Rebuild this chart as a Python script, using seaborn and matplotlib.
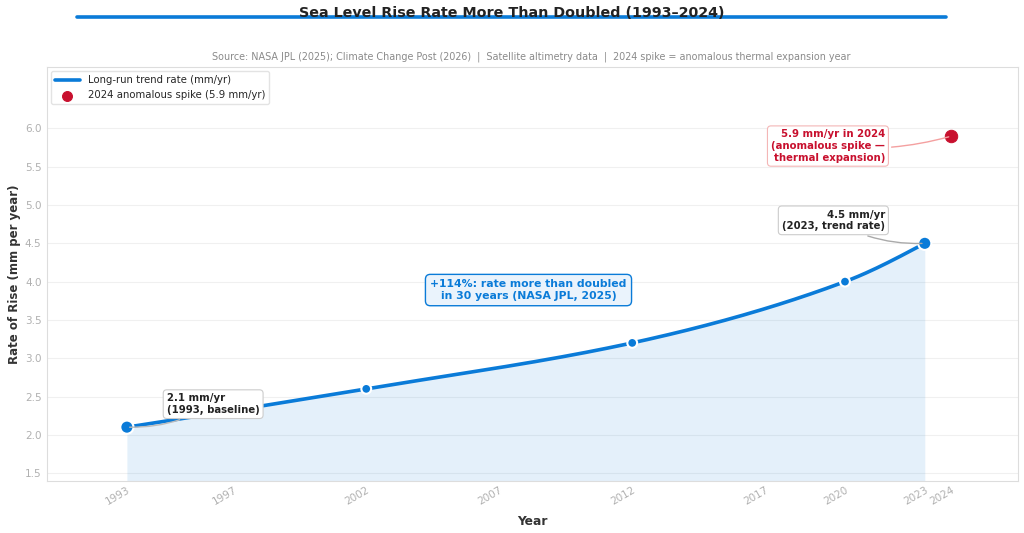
import numpy as np
import pandas as pd
import matplotlib
matplotlib.use('Agg')
import matplotlib.pyplot as plt
from matplotlib.lines import Line2D
import seaborn as sns

# data
years = [1993, 2002, 2012, 2020, 2023]
rates = [2.1, 2.6, 3.2, 4.0, 4.5]
spike_year = [2024]
spike_rate = [5.9]
tick_years = [1993, 1997, 2002, 2007, 2012, 2017, 2020, 2023, 2024]

blue = '#0a7bd8'
red = '#c8102e'

sns.set_theme(style='whitegrid')
plt.rcParams['font.family'] = ['DejaVu Sans']

df = pd.DataFrame({'year': years, 'rate': rates})


# smooth rendering of the trend line (monotone cubic through the read points)
def pchip(x, y, xs):
    x = np.asarray(x, float)
    y = np.asarray(y, float)
    h = np.diff(x)
    d = np.diff(y) / h
    m = np.zeros_like(y)
    for i in range(1, len(x) - 1):
        if d[i - 1] * d[i] > 0:
            w1 = 2 * h[i] + h[i - 1]
            w2 = h[i] + 2 * h[i - 1]
            m[i] = (w1 + w2) / (w1 / d[i - 1] + w2 / d[i])
    m[0] = ((2 * h[0] + h[1]) * d[0] - h[0] * d[1]) / (h[0] + h[1])
    m[-1] = ((2 * h[-1] + h[-2]) * d[-1] - h[-1] * d[-2]) / (h[-1] + h[-2])
    out = np.empty_like(xs)
    for j, xv in enumerate(xs):
        i = min(max(np.searchsorted(x, xv) - 1, 0), len(x) - 2)
        t = (xv - x[i]) / h[i]
        h00 = 2 * t**3 - 3 * t**2 + 1
        h10 = t**3 - 2 * t**2 + t
        h01 = -2 * t**3 + 3 * t**2
        h11 = t**3 - t**2
        out[j] = h00 * y[i] + h10 * h[i] * m[i] + h01 * y[i + 1] + h11 * h[i] * m[i + 1]
    return out


xs = np.linspace(years[0], years[-1], 300)
ys = pchip(years, rates, xs)
smooth = pd.DataFrame({'year': xs, 'rate': ys})

fig = plt.figure(figsize=(10.24, 5.33), dpi=100)
ax = fig.add_axes([0.046, 0.098, 0.948, 0.776])

ylo, yhi = 1.4, 6.8
ax.fill_between(xs, ylo, ys, color=blue, alpha=0.11, lw=0, zorder=1)
sns.lineplot(data=smooth, x='year', y='rate', ax=ax, color=blue, lw=2.6,
             label='Long-run trend rate (mm/yr)', zorder=3)
sizes = [90 if y in (1993, 2023) else 50 for y in years]
ax.scatter(years, rates, s=sizes, color=blue, edgecolor='white', linewidth=1.5, zorder=4)
sns.scatterplot(x=spike_year, y=spike_rate, ax=ax, s=80, color=red, edgecolor=red,
                label='2024 anomalous spike (5.9 mm/yr)', zorder=5)

ax.set_xlim(1990.0, 2026.5)
ax.set_ylim(ylo, yhi)
ax.set_xticks(tick_years)
ax.set_xticklabels([str(t) for t in tick_years], rotation=30, ha='right',
                   rotation_mode='anchor', color='#b0b0b0', fontsize=7.5)
ax.set_yticks(np.arange(1.5, 6.01, 0.5))
ax.set_yticklabels([f'{v:.1f}' for v in np.arange(1.5, 6.01, 0.5)], color='#b0b0b0', fontsize=7.5)
ax.tick_params(axis='x', length=0, pad=3)
ax.tick_params(axis='y', length=0, pad=4)
ax.grid(axis='x', visible=False)
ax.grid(axis='y', color='#f0f0f0', lw=0.8)
for s in ax.spines.values():
    s.set_color('#dddddd')
    s.set_linewidth(0.8)

ax.set_xlabel('Year', fontsize=8.8, fontweight='bold', color='#333333', labelpad=6)
ax.set_ylabel('Rate of Rise (mm per year)', fontsize=8.5, fontweight='bold', color='#333333', labelpad=3)

ax.legend(loc='upper left', fontsize=7.3, frameon=True, facecolor='white',
          edgecolor='#dddddd', borderaxespad=0.4, handlelength=2.4, markerscale=0.8)

# annotations
ax.annotate('2.1 mm/yr\n(1993, baseline)', xy=(1993, 2.1), xytext=(1994.5, 2.4),
            ha='left', va='center', fontsize=7.3, fontweight='bold', color='#222222',
            bbox=dict(boxstyle='round,pad=0.35', fc='white', ec='#cccccc', lw=0.8),
            arrowprops=dict(arrowstyle='-', color='#bbbbbb', lw=1,
                            connectionstyle='arc3,rad=-0.15'), zorder=6)
ax.annotate('4.5 mm/yr\n(2023, trend rate)', xy=(2023, 4.5), xytext=(2021.5, 4.8),
            ha='right', va='center', fontsize=7.3, fontweight='bold', color='#222222',
            bbox=dict(boxstyle='round,pad=0.35', fc='white', ec='#cccccc', lw=0.8),
            arrowprops=dict(arrowstyle='-', color='#aaaaaa', lw=1,
                            connectionstyle='arc3,rad=0.15'), zorder=6)
ax.annotate('5.9 mm/yr in 2024\n(anomalous spike —\nthermal expansion)', xy=(2024, 5.9),
            xytext=(2021.5, 5.77), ha='right', va='center', fontsize=7.3, fontweight='bold',
            color=red,
            bbox=dict(boxstyle='round,pad=0.35', fc='white', ec='#f4b6b6', lw=0.8),
            arrowprops=dict(arrowstyle='-', color='#f4a0a0', lw=1,
                            connectionstyle='arc3,rad=0.1'), zorder=6)
ax.text(2008.1, 3.89, '+114%: rate more than doubled\nin 30 years (NASA JPL, 2025)',
        ha='center', va='center', fontsize=7.8, fontweight='bold', color=blue,
        bbox=dict(boxstyle='round,pad=0.45', fc='#eaf3fc', ec=blue, lw=1), zorder=6)

# title with accent line
fig.add_artist(Line2D([0.075, 0.924], [0.968, 0.968], color=blue, lw=2.6,
                      transform=fig.transFigure, zorder=0))
fig.text(0.5, 0.975, 'Sea Level Rise Rate More Than Doubled (1993–2024)', ha='center',
         va='center', fontsize=10.3, fontweight='bold', color='#222222', zorder=2)
fig.text(0.519, 0.893, 'Source: NASA JPL (2025); Climate Change Post (2026)  |  Satellite altimetry data  |  '
         '2024 spike = anomalous thermal expansion year', ha='center', va='center',
         fontsize=6.9, color='#8a8a8a')

fig.savefig('out.png', dpi=100)
